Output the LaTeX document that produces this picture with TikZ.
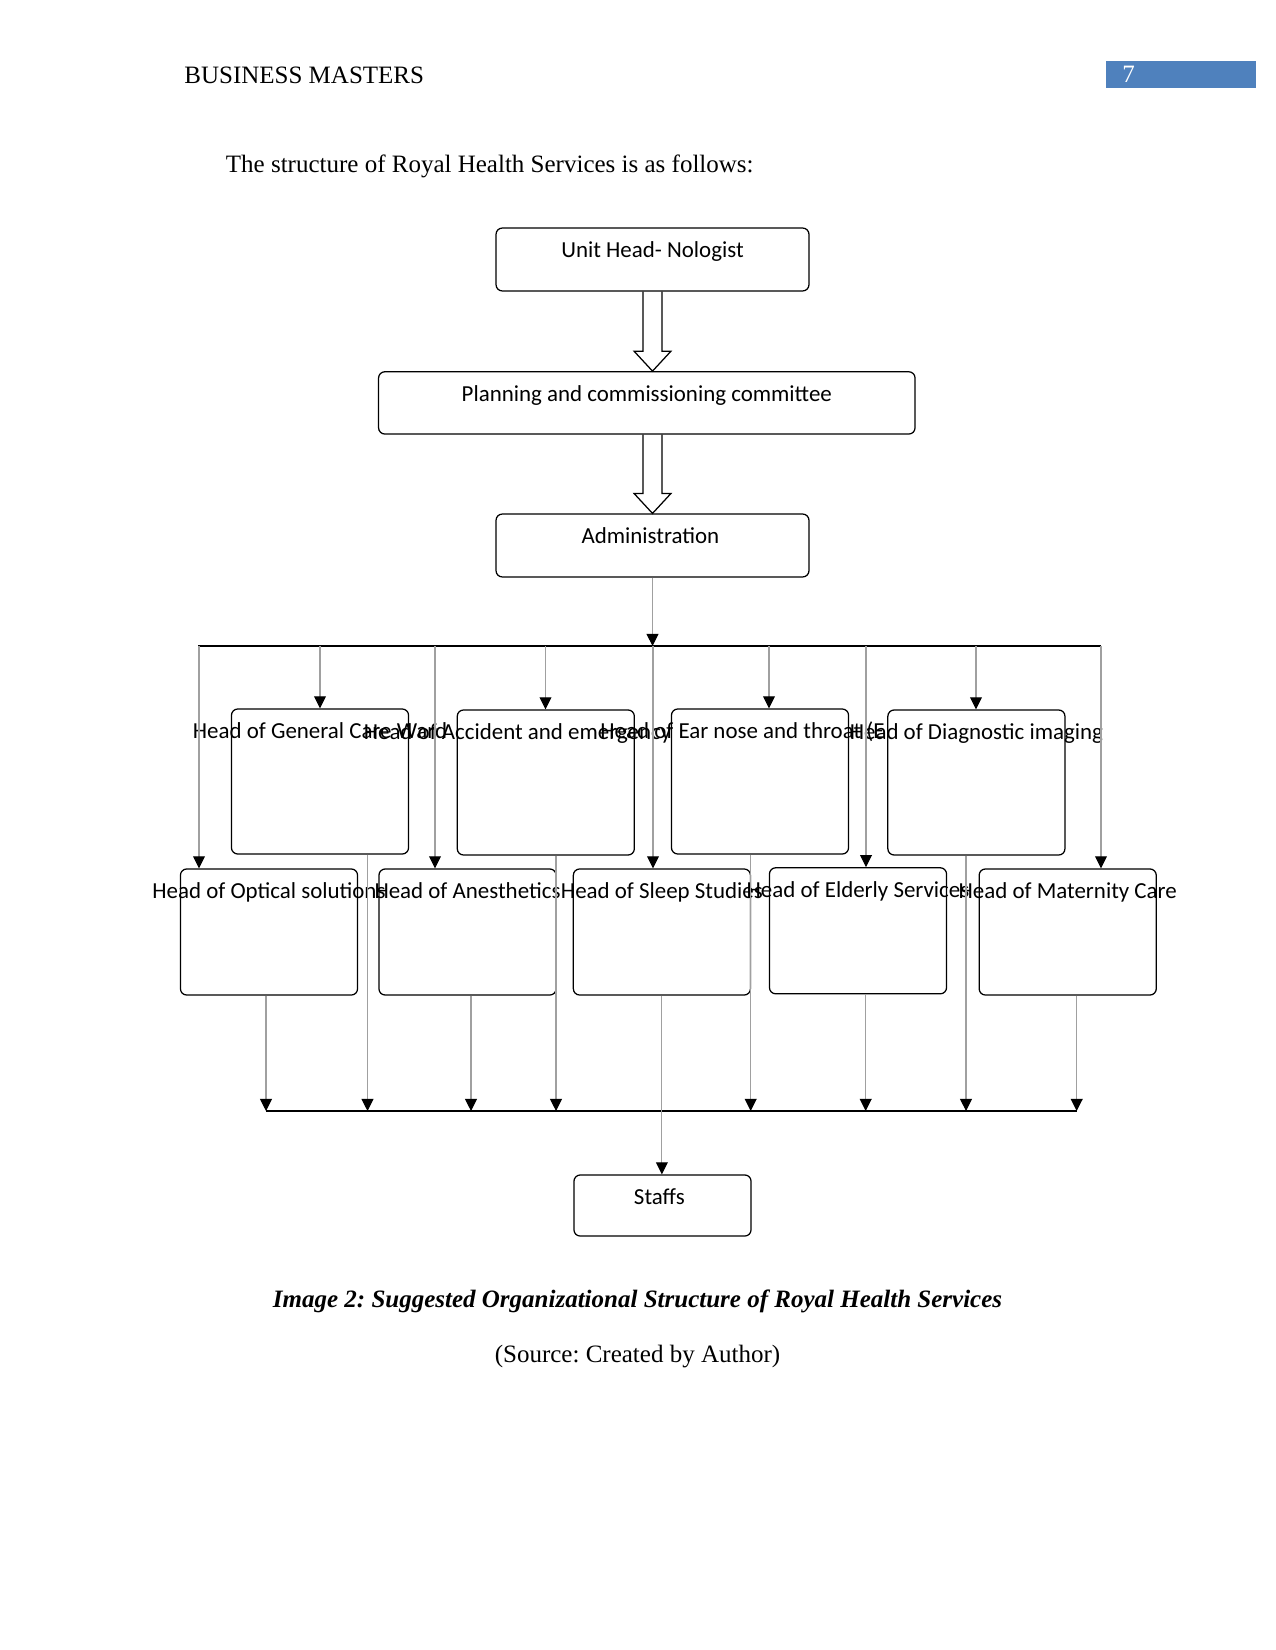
\documentclass[tikz,border=0pt]{standalone}
\usepackage{fontspec}
\setmainfont{Liberation Serif}
\newfontfamily\carlito{Carlito}
\usepackage{xcolor}
\usetikzlibrary{arrows.meta,calc}
\definecolor{headblue}{RGB}{79,129,189}
\definecolor{linegray}{RGB}{160,160,160}
\frenchspacing

\begin{document}
\begin{tikzpicture}[
  x=0.48pt, y=-0.48pt,
  box/.style={draw, rounded corners=3pt, line width=0.6pt, inner sep=0pt},
  wide/.style={box, minimum width=150.2pt, minimum height=30.2pt},
  upbox/.style={box, minimum width=85pt, minimum height=69.6pt},
  lowbox/.style={box, minimum width=85pt, minimum height=60.5pt},
  lab/.style={font=\carlito\fontsize{11}{13}\selectfont, inner sep=0pt,
              anchor=base, yshift=-14.4pt},
  txt/.style={font=\fontsize{12}{14}\selectfont, inner sep=0pt, anchor=base west},
  conn/.style={draw=linegray, line width=0.5pt,
               -{Triangle[width=5.7pt,length=5.8pt,color=black]}},
  bus/.style={draw, line width=0.5pt},
  bigarr/.style={draw, line width=0.6pt, line join=miter}
]
\useasboundingbox (0,0) rectangle (1275,1650);

% page head
\node[txt] (header) at (184,83.3) {BUSINESS MASTERS};
\fill[headblue] (1106,61) rectangle (1256,88);
\node[txt, text=white] (pageno) at (1122,82.3) {7};
\node[txt] (intro) at (225.5,172.7) {The structure of Royal Health Services is as follows:};

% top of the chart
\node[wide, label={[lab]north:Unit Head- Nologist}] (unit) at (652.5,259.5) {};
\node[wide, minimum width=257.5pt, minimum height=29.9pt,
      label={[lab]north:Planning and commissioning committee}] (plan) at (646.8,402.9) {};
\node[wide, label={[lab, xshift=-1pt]north:Administration}] (admin) at (652.5,545.5) {};

\draw[bigarr] ($(unit.south)+(-9.5,0)$) -- ($(unit.south |- plan.north)+(-9.5,-20)$)
  -- ++(-9,0) -- (unit.south |- plan.north) -- ++(18.5,-20) -- ++(-9,0)
  -- ($(unit.south)+(9.5,0)$);
\draw[bigarr] ($(admin.north |- plan.south)+(-9.5,0)$) -- ($(admin.north)+(-9.5,-20)$)
  -- ++(-9,0) -- (admin.north) -- ++(18.5,-20) -- ++(-9,0)
  -- ($(admin.north |- plan.south)+(9.5,0)$);

% heads, first row
\node[upbox, label={[lab]north:Head of General Care Ward}] (gen) at (320,781.5) {};
\node[upbox, label={[lab, xshift=-13.6pt]north:Head of Accident and emergency}] (ae) at (545.8,782.5) {};
\node[upbox, label={[lab, anchor=base west, xshift=-76.8pt]north:Head of Ear nose and throat (E}] (ent) at (760,781.5) {};
\node[upbox, label={[lab]north:Head of Diagnostic imaging}] (diag) at (976.4,782.5) {};

% heads, second row
\node[lowbox, label={[lab]north:Head of Optical solutions}] (opt) at (269,932) {};
\node[lowbox, label={[lab]north:Head of Anesthetics}] (anes) at (467.5,932) {};
\node[lowbox, label={[lab]north:Head of Sleep Studies}] (sleep) at (661.9,932) {};
\node[lowbox, label={[lab]north:Head of Elderly Services}] (eld) at (858,930.8) {};
\node[lowbox, label={[lab]north:Head of Maternity Care}] (mat) at (1067.7,932) {};

\node[wide, minimum width=85pt, minimum height=29.3pt,
      label={[lab, xshift=-1.5pt]north:Staffs}] (staff) at (662.5,1205.5) {};

% connectors
\coordinate (hub) at (653,646);
\coordinate (busL) at (198,646);
\coordinate (busR) at (1101,646);
\draw[bus] (busL) -- (busR);
\draw[conn] (admin.south) -- (admin.south |- hub);
\foreach \b/\x in {gen/320, ae/545.5, ent/769, diag/976, opt/199,
                   anes/435, sleep/653, eld/866, mat/1101}{
  \coordinate (drop) at (\x,646);
  \draw[conn] (drop) -- (drop |- \b.north);
}

\coordinate (lowL) at (266,1111);
\coordinate (lowR) at (1077,1111);
\draw[bus] (lowL) -- (lowR);
\foreach \b/\x in {opt/266, gen/367.5, anes/471, ae/556, ent/750.7,
                   eld/865.7, diag/966, mat/1076.7}{
  \coordinate (rise) at (\x,1111);
  \draw[conn] (rise |- \b.south) -- (rise);
}
\draw[conn] (sleep.south) -- (sleep.south |- staff.north);

% caption
\node[txt, anchor=base, font=\bfseries\itshape\fontsize{12}{14}\selectfont] (caption)
  at (637.5,1307) {Image 2: Suggested Organizational Structure of Royal Health Services};
\node[txt, anchor=base] (source) at (637.5,1362) {(Source: Created by Author)};
\end{tikzpicture}
\end{document}
